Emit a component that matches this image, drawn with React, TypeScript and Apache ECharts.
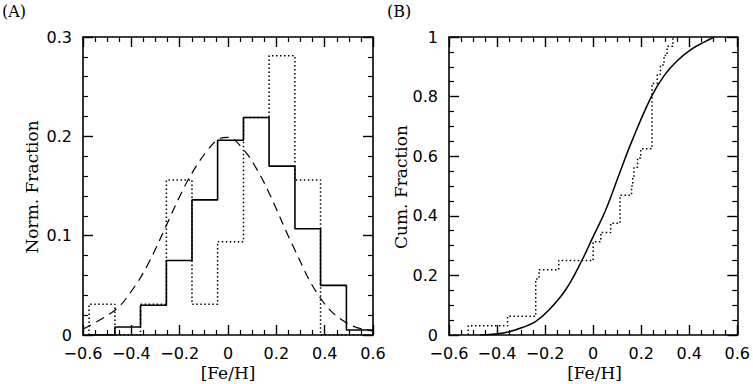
import React, { useEffect, useRef } from "react";
import * as echarts from "echarts";

// Histogram bin edges ([Fe/H]) and normalized fractions
const binEdges = [-0.575, -0.468, -0.362, -0.255, -0.149, -0.043, 0.064, 0.170, 0.277, 0.383, 0.490, 0.600];
const solidHist = [0, 0.008, 0.030, 0.075, 0.136, 0.196, 0.219, 0.170, 0.107, 0.050, 0.005];
const dottedHist = [0.031, 0, 0.031, 0.156, 0.031, 0.094, 0.219, 0.281, 0.156, 0, 0];

// Dashed model curve (panel A)
const modelX = [-0.60, -0.468, -0.406, -0.336, -0.254, -0.199, -0.149, -0.088, -0.040, 0.0, 0.063, 0.119, 0.170, 0.270, 0.383, 0.491, 0.60];
const modelY = [0.006, 0.025, 0.042, 0.069, 0.111, 0.140, 0.163, 0.185, 0.197, 0.199, 0.187, 0.167, 0.143, 0.089, 0.037, 0.012, 0.004];

// Solid cumulative curve (panel B)
const cumCurveX = [-0.47, -0.40, -0.35, -0.295, -0.24, -0.184, -0.115, -0.047, 0.0, 0.05, 0.112, 0.16, 0.242, 0.297, 0.352, 0.407, 0.462, 0.505];
const cumCurveY = [0, 0.004, 0.011, 0.025, 0.045, 0.084, 0.151, 0.25, 0.33, 0.415, 0.547, 0.648, 0.799, 0.872, 0.922, 0.958, 0.983, 1.0];

// Dotted cumulative steps (panel B)
const cumStepX = [-0.520, -0.356, -0.239, -0.225, -0.143, 0.000, 0.032, 0.073, 0.112, 0.160, 0.165, 0.170, 0.185, 0.198, 0.245, 0.267, 0.280, 0.295, 0.308, 0.332];
const cumStepY = [0.031, 0.063, 0.188, 0.219, 0.25, 0.313, 0.344, 0.375, 0.469, 0.5, 0.531, 0.563, 0.594, 0.625, 0.844, 0.875, 0.906, 0.938, 0.969, 1.0];

const xTicks = { min: -0.6, max: 0.6, interval: 0.2 };

function histPath(edges: number[], h: number[]) {
  const pts: number[][] = [[edges[0], 0]];
  h.forEach((v, i) => {
    pts.push([edges[i], v]);
    pts.push([edges[i + 1], v]);
  });
  pts.push([edges[edges.length - 1], 0]);
  return pts;
}

function cumPath(xs: number[], ys: number[]) {
  const pts: number[][] = [[xs[0], 0]];
  xs.forEach((x, i) => {
    pts.push([x, i === 0 ? 0 : ys[i - 1]]);
    pts.push([x, ys[i]]);
  });
  return pts;
}

const fmt = (v: number) => {
  const r = Math.round(v * 10) / 10;
  if (Math.abs(r) < 1e-9) return "0";
  if (Math.abs(r - 1) < 1e-9) return "1";
  const s = Math.abs(r).toFixed(1);
  return r < 0 ? "\u2212" + s : s;
};

const labelFont = { fontFamily: "DejaVu Sans", fontSize: 16, lineHeight: 14, color: "#000" };
const titleFont = "17px 'DejaVu Serif'";

function axis(
  kind: "x" | "y",
  gridIndex: number,
  position: string,
  min: number,
  max: number,
  interval: number,
  split: number,
  showLabel: boolean
) {
  return {
    type: "value",
    gridIndex,
    position,
    min,
    max,
    interval,
    axisLine: { show: true, onZero: false, lineStyle: { color: "#000", width: 1.6 } },
    axisTick: { show: true, inside: true, length: 10, lineStyle: { color: "#000", width: 1.4 } },
    minorTick: { show: true, splitNumber: split, length: 5, lineStyle: { color: "#000", width: 1.2 } },
    splitLine: { show: false },
    minorSplitLine: { show: false },
    axisLabel: {
      show: showLabel,
      ...labelFont,
      margin: kind === "x" ? 11 : 11,
      formatter: fmt,
      showMinLabel: true,
      showMaxLabel: true,
    },
  };
}

export default function App() {
  const ref = useRef<HTMLDivElement>(null);
  useEffect(() => {
    if (!ref.current) return;
    const chart = echarts.init(ref.current, undefined, { renderer: "svg" });
    chart.setOption({
      animation: false,
      backgroundColor: "#fff",
      grid: [
        { left: 83, top: 37, width: 290, height: 298 },
        { left: 449, top: 37, width: 291, height: 298 },
      ],
      xAxis: [
        axis("x", 0, "bottom", xTicks.min, xTicks.max, xTicks.interval, 4, true),
        axis("x", 0, "top", xTicks.min, xTicks.max, xTicks.interval, 4, false),
        axis("x", 1, "bottom", xTicks.min, xTicks.max, xTicks.interval, 4, true),
        axis("x", 1, "top", xTicks.min, xTicks.max, xTicks.interval, 4, false),
      ],
      yAxis: [
        axis("y", 0, "left", 0, 0.3, 0.1, 5, true),
        axis("y", 0, "right", 0, 0.3, 0.1, 5, false),
        axis("y", 1, "left", 0, 1, 0.2, 4, true),
        axis("y", 1, "right", 0, 1, 0.2, 4, false),
      ],
      series: [
        {
          type: "line",
          xAxisIndex: 0,
          yAxisIndex: 0,
          data: histPath(binEdges, solidHist),
          symbol: "none",
          lineStyle: { color: "#000", width: 1.6 },
          z: 3,
        },
        {
          type: "line",
          xAxisIndex: 0,
          yAxisIndex: 0,
          data: histPath(binEdges, dottedHist),
          symbol: "none",
          lineStyle: { color: "#000", width: 1.5, type: [1.5, 2.5] },
          z: 2,
        },
        {
          type: "line",
          xAxisIndex: 0,
          yAxisIndex: 0,
          data: modelX.map((x, i) => [x, modelY[i]]),
          symbol: "none",
          smooth: 0.4,
          lineStyle: { color: "#000", width: 1.2, type: [9, 6] },
          z: 2,
        },
        {
          type: "line",
          xAxisIndex: 2,
          yAxisIndex: 2,
          data: cumCurveX.map((x, i) => [x, cumCurveY[i]]),
          symbol: "none",
          smooth: 0.4,
          lineStyle: { color: "#000", width: 1.5 },
          z: 3,
        },
        {
          type: "line",
          xAxisIndex: 2,
          yAxisIndex: 2,
          data: cumPath(cumStepX, cumStepY),
          symbol: "none",
          lineStyle: { color: "#000", width: 1.5, type: [1.5, 2.5] },
          z: 2,
        },
      ],
      graphic: [
        { type: "text", x: 2, y: 3, style: { text: "(A)", font: "16px 'DejaVu Serif'", fill: "#000", align: "left", verticalAlign: "top" } },
        { type: "text", x: 387, y: 3, style: { text: "(B)", font: "16px 'DejaVu Serif'", fill: "#000", align: "left", verticalAlign: "top" } },
        { type: "text", x: 228, y: 373, style: { text: "[Fe/H]", font: titleFont, fill: "#000", align: "center", verticalAlign: "middle" } },
        { type: "text", x: 594.5, y: 373, style: { text: "[Fe/H]", font: titleFont, fill: "#000", align: "center", verticalAlign: "middle" } },
        { type: "text", x: 32, y: 187, rotation: Math.PI / 2, style: { text: "Norm. Fraction", font: titleFont, fill: "#000", align: "center", verticalAlign: "middle" } },
        { type: "text", x: 401, y: 187, rotation: Math.PI / 2, style: { text: "Cum. Fraction", font: titleFont, fill: "#000", align: "center", verticalAlign: "middle" } },
      ],
    });
    return () => chart.dispose();
  }, []);
  return <div ref={ref} style={{ position: "fixed", left: 0, top: 0, width: 753, height: 384 }} />;
}
